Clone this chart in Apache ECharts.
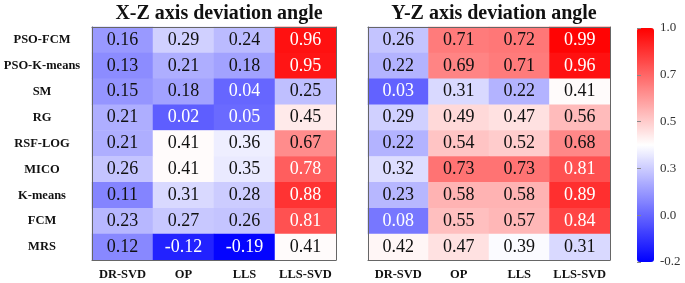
<!DOCTYPE html>
<html><head><meta charset="utf-8">
<script src="https://cdn.jsdelivr.net/npm/echarts@6/dist/echarts.min.js"></script>
<style>html,body{margin:0;padding:0;background:#fff}#c{width:685px;height:283px}</style>
</head><body><div id="c"></div>
<script>
var rows = ['PSO-FCM','PSO-K-means','SM','RG','RSF-LOG','MICO','K-means','FCM','MRS'];
var cols = ['DR-SVD','OP','LLS','LLS-SVD'];
var xzValues = [
  [0.16,0.29,0.24,0.96],
  [0.13,0.21,0.18,0.95],
  [0.15,0.18,0.04,0.25],
  [0.21,0.02,0.05,0.45],
  [0.21,0.41,0.36,0.67],
  [0.26,0.41,0.35,0.78],
  [0.11,0.31,0.28,0.88],
  [0.23,0.27,0.26,0.81],
  [0.12,-0.12,-0.19,0.41]
];
var yzValues = [
  [0.26,0.71,0.72,0.99],
  [0.22,0.69,0.71,0.96],
  [0.03,0.31,0.22,0.41],
  [0.29,0.49,0.47,0.56],
  [0.22,0.54,0.52,0.68],
  [0.32,0.73,0.73,0.81],
  [0.23,0.58,0.58,0.89],
  [0.08,0.55,0.57,0.84],
  [0.42,0.47,0.39,0.31]
];
var titles = ['X-Z axis deviation angle','Y-Z axis deviation angle'];
var colorbarTicks = ['-0.2','0.0','0.3','0.5','0.7','1.0'];
var vMin = -0.2, vMax = 1.0;

var FONT = '"Liberation Serif","Times New Roman",serif';
function toData(m){
  var d=[];
  m.forEach(function(r,i){ r.forEach(function(v,j){ d.push([j,i,v]); }); });
  return d;
}
function textColor(v){ return (v < 0.1 || v > 0.75) ? '#ffffff' : '#111111'; }

var grids = [
  {left:92, top:27, width:244, height:233},
  {left:368, top:27, width:242, height:233},
  {left:637, top:28, width:17, height:234}
];
var xAxes=[], yAxes=[], series=[];
[0,1].forEach(function(g){
  xAxes.push({type:'category', data:cols, gridIndex:g, position:'bottom', z:10,
    axisLine:{show:true, lineStyle:{color:'#666',width:1}}, axisTick:{show:false},
    axisLabel:{interval:0, fontFamily:FONT, fontWeight:'bold', fontSize:12.5, color:'#111', margin:8},
    splitLine:{show:false}});
  xAxes.push({type:'category', data:cols, gridIndex:g, position:'top', z:10,
    axisLine:{show:true, lineStyle:{color:'#666',width:1}}, axisTick:{show:false},
    axisLabel:{show:false}});
  yAxes.push({type:'category', data:rows, gridIndex:g, inverse:true, position:'left', z:10,
    axisLine:{show:true, lineStyle:{color:'#666',width:1}}, axisTick:{show:false},
    axisLabel:{show: g===0, interval:0, fontFamily:FONT, fontWeight:'bold', fontSize:12.5, color:'#111', align:'center', margin:50}});
  yAxes.push({type:'category', data:rows, gridIndex:g, inverse:true, position:'right', z:10,
    axisLine:{show:true, lineStyle:{color:'#666',width:1}}, axisTick:{show:false},
    axisLabel:{show:false}});
  series.push({type:'heatmap', xAxisIndex:g*2, yAxisIndex:g*2, data:toData(g===0?xzValues:yzValues),
    label:{show:true, fontFamily:FONT, fontSize:18,
      formatter:function(p){ return p.value[2].toFixed(2); }},
    itemStyle:{borderWidth:0}
  });
});
// colorbar tick axis
xAxes.push({type:'value', gridIndex:2, show:false, min:0, max:1});
yAxes.push({type:'value', gridIndex:2, min:0, max:colorbarTicks.length-1, interval:1, position:'right', z:10,
  axisLine:{show:false}, splitLine:{show:false},
  axisTick:{show:true, length:4, inside:false, lineStyle:{color:'#888'}},
  axisLabel:{fontFamily:FONT, fontSize:13, color:'#333', margin:6,
    formatter:function(v){ return colorbarTicks[Math.round(v)]; }}});

series.forEach(function(s){
  s.data = s.data.map(function(d){ return {value:d, label:{color:textColor(d[2])}}; });
});

var option = {
  backgroundColor:'#fff',
  animation:false,
  title: titles.map(function(t,i){
    var g=grids[i];
    return {text:t, left:g.left+g.width/2, textAlign:'center', top:-1,
      textStyle:{fontFamily:FONT, fontWeight:'bold', fontSize:20, color:'#111'}};
  }),
  grid: grids,
  xAxis: xAxes,
  yAxis: yAxes,
  visualMap: {type:'continuous', min:vMin, max:vMax, seriesIndex:[0,1], show:true,
    calculable:false, hoverLink:false, realtime:false, indicatorSize:0,
    left:637, top:28, itemWidth:17, itemHeight:234, text:null, showLabel:false,
    inRange:{color:['#0000ff','#ffffff','#ff0000']}, padding:0},
  series: series
};
echarts.init(document.getElementById('c')).setOption(option);
</script></body></html>
